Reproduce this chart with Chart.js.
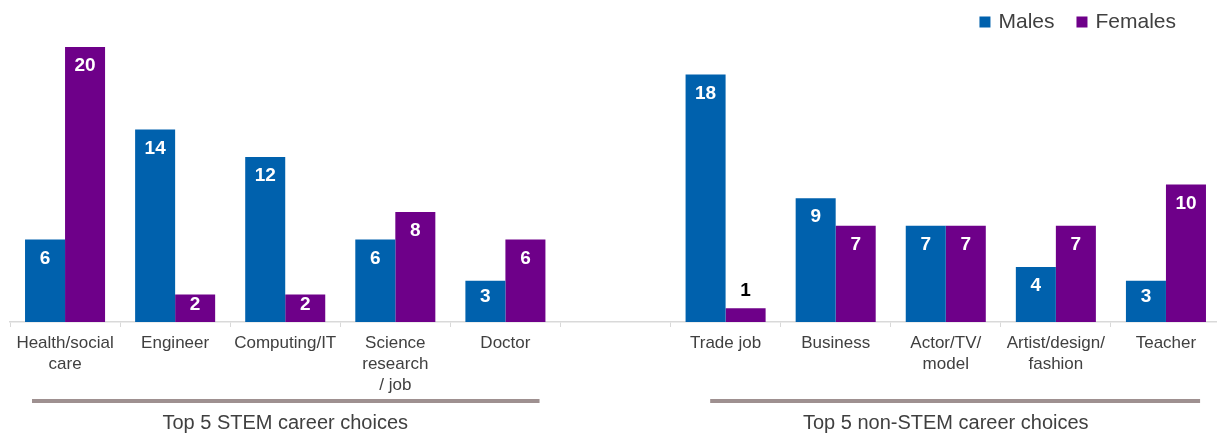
<!DOCTYPE html>
<html>
<head>
<meta charset="utf-8">
<script src="https://cdn.jsdelivr.net/npm/chart.js@4.4.1/dist/chart.umd.min.js"></script>
<style>
  html, body { margin: 0; padding: 0; background: #ffffff; overflow: hidden; }
  #wrap { width: 1221px; height: 435px; position: relative; }
</style>
</head>
<body>
<div id="wrap"><canvas id="c"></canvas></div>
<script>
const categories = [
  ['Health/social', 'care'],
  ['Engineer'],
  ['Computing/IT'],
  ['Science', 'research', '/ job'],
  ['Doctor'],
  [''],
  ['Trade job'],
  ['Business'],
  ['Actor/TV/', 'model'],
  ['Artist/design/', 'fashion'],
  ['Teacher']
];
const seriesNames = ['Males', 'Females'];
const males   = [6, 14, 12, 6, 3, null, 18, 9, 7, 4, 3];
const females = [20, 2, 2, 8, 6, null, 1, 7, 7, 7, 10];
const groupLabels = ['Top 5 STEM career choices', 'Top 5 non-STEM career choices'];
const groupFrom = [0, 6];
const groupTo = [4, 10];

const BLUE = '#0061AD';
const PURPLE = '#6E0089';
const TEXT = '#404040';
const FONT = "'Liberation Sans', Arial, sans-serif";

const valueLabels = {
  id: 'valueLabels',
  afterDatasetsDraw(chart) {
    const ctx = chart.ctx;
    ctx.save();
    ctx.font = 'bold 19px ' + FONT;
    ctx.textAlign = 'center';
    ctx.textBaseline = 'middle';
    chart.data.datasets.forEach((ds, di) => {
      const meta = chart.getDatasetMeta(di);
      meta.data.forEach((bar, i) => {
        const v = ds.data[i];
        if (v === null || v === undefined) return;
        const h = bar.base - bar.y;
        let y, color;
        if (v < 2) {
          y = bar.y - 17;
          color = '#000000';
        } else {
          y = bar.y + Math.min(19, h * 0.39);
          color = '#ffffff';
        }
        ctx.fillStyle = color;
        ctx.fillText(String(v), bar.x, y);
      });
    });
    ctx.restore();
  }
};

const groupsPlugin = {
  id: 'groups',
  afterDraw(chart) {
    const ctx = chart.ctx;
    const x = chart.scales.x;
    const w = x.width / categories.length;
    const leftExt = [0.3, 0.14];
    const rightExt = 0.31;
    ctx.save();
    groupLabels.forEach((lab, g) => {
      const c0 = x.getPixelForValue(groupFrom[g]);
      const c1 = x.getPixelForValue(groupTo[g]);
      ctx.strokeStyle = '#9E9090';
      ctx.lineWidth = 4;
      ctx.beginPath();
      ctx.moveTo(c0 - leftExt[g] * w, 401);
      ctx.lineTo(c1 + rightExt * w, 401);
      ctx.stroke();
      ctx.fillStyle = TEXT;
      ctx.font = '20px ' + FONT;
      ctx.textAlign = 'center';
      ctx.textBaseline = 'middle';
      ctx.fillText(lab, (c0 + c1) / 2, 423);
    });
    ctx.restore();
  }
};

const legendPlugin = {
  id: 'customLegend',
  afterDraw(chart) {
    const ctx = chart.ctx;
    ctx.save();
    ctx.font = '21px ' + FONT;
    ctx.textBaseline = 'middle';
    ctx.textAlign = 'left';
    const box = 11, gapBox = 8, gapItem = 22;
    const cy = 22;
    const widths = seriesNames.map(n => ctx.measureText(n).width);
    let total = 0;
    widths.forEach((wd, i) => { total += box + gapBox + wd + (i ? gapItem : 0); });
    let xPos = chart.width - 45 - total;
    chart.data.datasets.forEach((ds, i) => {
      if (i) xPos += gapItem;
      ctx.fillStyle = ds.backgroundColor;
      ctx.fillRect(xPos, cy - box / 2, box, box);
      xPos += box + gapBox;
      ctx.fillStyle = TEXT;
      ctx.fillText(seriesNames[i], xPos, cy);
      xPos += widths[i];
    });
    ctx.restore();
  }
};

new Chart(document.getElementById('c'), {
  type: 'bar',
  data: {
    labels: categories,
    datasets: [
      { label: seriesNames[0], data: males, backgroundColor: BLUE },
      { label: seriesNames[1], data: females, backgroundColor: PURPLE }
    ]
  },
  options: {
    responsive: true,
    maintainAspectRatio: false,
    animation: false,
    layout: { padding: { left: 10, top: 47, right: 0, bottom: 0 } },
    datasets: { bar: { categoryPercentage: 0.727, barPercentage: 1.0 } },
    plugins: {
      legend: { display: false },
      tooltip: { enabled: false }
    },
    scales: {
      x: {
        offset: true,
        grid: {
          offset: true,
          drawOnChartArea: false,
          drawTicks: true,
          tickLength: 5,
          color: '#D9D9D9',
          lineWidth: 1
        },
        border: { display: true, color: '#D9D9D9', width: 1.5 },
        ticks: {
          autoSkip: false,
          maxRotation: 0,
          minRotation: 0,
          padding: 6,
          color: TEXT,
          font: { family: FONT, size: 17, lineHeight: '21px' }
        },
        afterFit(scale) { scale.height = 113; }
      },
      y: {
        display: false,
        min: 0,
        max: 20
      }
    }
  },
  plugins: [valueLabels, groupsPlugin, legendPlugin]
});
</script>
</body>
</html>
